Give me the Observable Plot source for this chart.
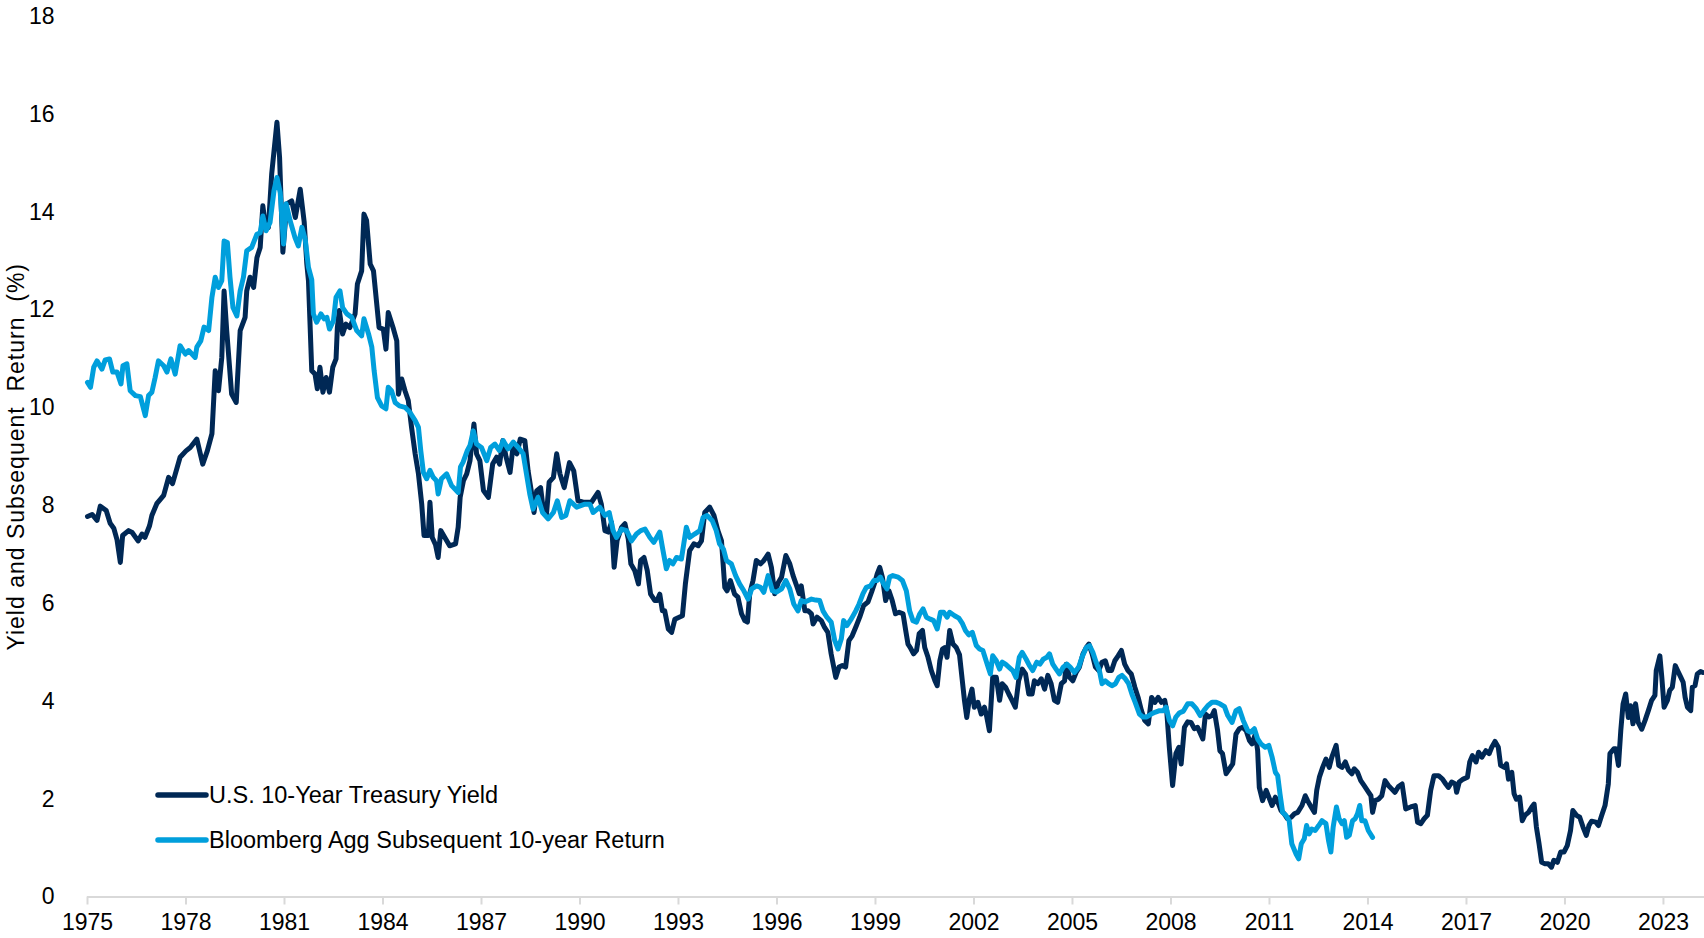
<!DOCTYPE html>
<html>
<head>
<meta charset="utf-8">
<script src="https://cdn.jsdelivr.net/npm/d3@7"></script>
<script src="https://cdn.jsdelivr.net/npm/@observablehq/plot@0.6"></script>
<style>
  html, body { margin: 0; padding: 0; background: #ffffff; }
  #wrap { position: relative; width: 1704px; height: 938px; font-family: "Liberation Sans", Arial, sans-serif; }
  #legend { position: absolute; left: 154px; top: 0; font-size: 23.5px; color: #000; }
  .row { position: absolute; left: 0; display: flex; align-items: center; white-space: nowrap; height: 30px; }
  .row svg { display: block; margin-right: 0px; }
  g[aria-label="y-axis label"] text { white-space: pre; letter-spacing: 1px; }
</style>
</head>
<body>
<div id="wrap"></div>
<script>
// ---- Data (x = position on the chart's year axis) ----
const seriesNames = ["U.S. 10-Year Treasury Yield", "Bloomberg Agg Subsequent 10-year Return"];
const seriesColors = ["#002855", "#009fdc"];
const xTicks = [1975, 1978, 1981, 1984, 1987, 1990, 1993, 1996, 1999, 2002, 2005, 2008, 2011, 2014, 2017, 2020, 2023];
const yTicks = [0, 2, 4, 6, 8, 10, 12, 14, 16, 18];

const treasuryYear = [
1975.00,1975.14,1975.29,1975.39,1975.57,1975.69,1975.80,1975.90,1976.00,1976.07,1976.25,1976.36,1976.54,1976.66,1976.75,1976.89,1976.96,1977.11,1977.32,1977.47,1977.59,1977.82,1978.00,1978.13,1978.33,1978.51,1978.65,1978.79,1978.89,1978.99,
1979.09,1979.16,1979.24,1979.39,1979.53,1979.65,1979.80,1979.85,1979.95,1980.06,1980.16,1980.26,1980.34,1980.41,1980.51,1980.61,1980.77,1980.85,1980.95,1981.07,1981.22,1981.33,1981.48,1981.60,1981.68,1981.73,1981.83,1981.93,1982.00,1982.08,
1982.17,1982.27,1982.37,1982.47,1982.57,1982.61,1982.67,1982.77,1982.87,1982.99,1983.15,1983.22,1983.35,1983.42,1983.50,1983.61,1983.71,1983.88,1984.01,1984.09,1984.16,1984.32,1984.42,1984.47,1984.57,1984.67,1984.77,1984.87,1984.98,1985.08,
1985.18,1985.25,1985.38,1985.43,1985.50,1985.60,1985.68,1985.76,1985.91,1986.03,1986.21,1986.29,1986.35,1986.45,1986.55,1986.65,1986.77,1986.85,1986.95,1987.06,1987.21,1987.34,1987.46,1987.55,1987.65,1987.75,1987.87,1987.97,1988.08,1988.18,
1988.32,1988.42,1988.53,1988.60,1988.68,1988.80,1988.88,1988.98,1989.06,1989.19,1989.29,1989.39,1989.52,1989.68,1989.81,1989.94,1990.10,1990.35,1990.55,1990.65,1990.76,1990.86,1990.96,1991.04,1991.13,1991.27,1991.37,1991.47,1991.55,1991.67,
1991.78,1991.85,1991.95,1992.05,1992.15,1992.28,1992.35,1992.43,1992.51,1992.58,1992.69,1992.79,1992.89,1993.02,1993.12,1993.21,1993.34,1993.47,1993.60,1993.70,1993.80,1993.95,1994.08,1994.20,1994.31,1994.41,1994.48,1994.58,1994.71,1994.81,
1994.92,1995.02,1995.10,1995.17,1995.27,1995.37,1995.50,1995.60,1995.73,1995.83,1995.93,1996.04,1996.14,1996.27,1996.39,1996.49,1996.60,1996.68,1996.74,1996.85,1996.95,1997.05,1997.10,1997.22,1997.35,1997.45,1997.55,1997.65,1997.79,1997.89,
1997.99,1998.09,1998.19,1998.29,1998.42,1998.52,1998.64,1998.77,1998.88,1998.98,1999.05,1999.13,1999.21,1999.31,1999.41,1999.51,1999.61,1999.72,1999.84,1999.92,1999.99,2000.06,2000.16,2000.25,2000.33,2000.43,2000.50,2000.60,2000.70,2000.81,
2000.88,2000.96,2001.04,2001.11,2001.18,2001.26,2001.36,2001.46,2001.56,2001.64,2001.71,2001.78,2001.86,2001.94,2002.01,2002.12,2002.22,2002.32,2002.39,2002.47,2002.57,2002.68,2002.78,2002.86,2002.96,2003.06,2003.16,2003.26,2003.36,2003.47,
2003.57,2003.67,2003.77,2003.84,2003.94,2004.05,2004.15,2004.25,2004.35,2004.45,2004.55,2004.66,2004.76,2004.81,2004.91,2005.01,2005.11,2005.21,2005.32,2005.42,2005.50,2005.60,2005.70,2005.80,2005.90,2006.00,2006.09,2006.19,2006.29,2006.39,
2006.49,2006.59,2006.69,2006.79,2006.90,2007.00,2007.10,2007.20,2007.31,2007.41,2007.51,2007.61,2007.71,2007.81,2007.87,2007.95,2008.05,2008.15,2008.24,2008.31,2008.41,2008.51,2008.61,2008.71,2008.81,2008.97,2009.05,2009.15,2009.25,2009.32,
2009.42,2009.49,2009.57,2009.68,2009.78,2009.88,2009.98,2010.08,2010.18,2010.29,2010.39,2010.47,2010.57,2010.64,2010.69,2010.79,2010.90,2010.98,2011.08,2011.18,2011.28,2011.35,2011.45,2011.55,2011.66,2011.76,2011.86,2011.99,2012.09,2012.16,
2012.27,2012.37,2012.44,2012.52,2012.62,2012.72,2012.82,2012.90,2013.03,2013.11,2013.21,2013.31,2013.41,2013.51,2013.58,2013.68,2013.78,2013.88,2013.98,2014.09,2014.14,2014.22,2014.32,2014.42,2014.52,2014.62,2014.72,2014.82,2014.93,2015.04,
2015.15,2015.30,2015.44,2015.51,2015.61,2015.71,2015.81,2015.91,2016.01,2016.15,2016.27,2016.37,2016.45,2016.55,2016.66,2016.70,2016.78,2016.90,2017.03,2017.10,2017.18,2017.29,2017.37,2017.47,2017.59,2017.69,2017.77,2017.87,2017.97,2018.04,
2018.15,2018.22,2018.28,2018.38,2018.45,2018.52,2018.62,2018.70,2018.78,2018.89,2018.99,2019.06,2019.13,2019.21,2019.29,2019.39,2019.49,2019.59,2019.66,2019.77,2019.87,2019.97,2020.07,2020.17,2020.24,2020.35,2020.45,2020.55,2020.65,2020.73,
2020.81,2020.94,2021.02,2021.12,2021.22,2021.32,2021.37,2021.49,2021.55,2021.63,2021.70,2021.77,2021.85,2021.93,2022.00,2022.07,2022.15,2022.23,2022.34,2022.44,2022.54,2022.64,2022.74,2022.78,2022.89,2022.95,2023.02,2023.12,2023.19,2023.27,
2023.36,2023.43,2023.53,2023.60,2023.66,2023.73,2023.83,2023.88,2023.96,2024.03,2024.13,2024.20
];
const treasuryYield = [
7.78,7.82,7.70,7.99,7.90,7.64,7.54,7.30,6.84,7.39,7.49,7.45,7.28,7.42,7.35,7.59,7.80,8.04,8.21,8.58,8.45,8.99,9.12,9.19,9.36,8.85,9.12,9.47,10.76,10.35,
11.03,12.39,11.58,10.28,10.11,11.58,11.85,12.39,12.67,12.46,13.07,13.28,14.13,13.76,13.69,14.78,15.84,15.12,13.18,14.17,14.23,13.89,14.47,13.80,12.94,12.60,10.76,10.69,10.39,10.83,
10.32,10.62,10.32,10.83,11.00,11.64,11.99,11.51,11.71,11.64,11.92,12.53,12.80,13.96,13.83,12.94,12.80,11.64,11.61,11.20,11.95,11.61,11.37,10.28,10.59,10.35,10.15,9.60,9.06,8.65,
8.03,7.39,7.39,8.07,7.35,7.20,6.94,7.49,7.32,7.18,7.22,7.56,8.17,8.51,8.65,8.92,9.67,9.06,8.92,8.31,8.17,8.85,8.99,8.85,9.33,8.99,8.68,9.26,9.06,9.36,
9.33,8.71,8.24,7.86,8.30,8.37,7.93,7.83,8.48,8.58,9.06,8.65,8.37,8.88,8.71,8.10,8.07,8.07,8.27,8.03,7.49,7.46,7.66,6.74,7.29,7.56,7.63,7.32,6.81,6.67,
6.40,6.88,6.94,6.67,6.19,6.06,6.06,6.19,5.85,5.85,5.48,5.41,5.68,5.72,5.75,6.40,7.08,7.22,7.18,7.28,7.86,7.97,7.80,7.49,7.28,6.33,6.26,6.47,6.19,6.13,
5.79,5.65,5.62,6.20,6.47,6.88,6.81,6.88,7.01,6.74,6.20,6.43,6.54,6.98,6.81,6.57,6.36,6.20,6.36,5.85,5.85,5.79,5.58,5.72,5.65,5.51,5.41,4.97,4.49,4.70,
4.73,4.70,5.24,5.34,5.55,5.72,5.96,6.03,6.23,6.43,6.60,6.74,6.54,6.06,6.26,6.06,5.79,5.82,5.79,5.45,5.17,5.10,4.97,5.04,5.38,5.45,5.10,4.90,4.63,4.42,
4.32,4.83,5.07,5.10,4.90,5.45,5.17,5.10,4.95,4.45,4.02,3.67,4.05,4.25,3.88,3.98,3.74,3.88,3.68,3.40,4.49,4.49,4.02,4.36,4.29,4.15,4.02,3.88,4.42,4.66,
4.56,4.15,4.15,4.42,4.36,4.46,4.25,4.53,4.36,4.02,3.98,4.36,4.42,4.76,4.49,4.42,4.59,4.70,4.97,5.10,5.17,4.97,4.70,4.63,4.80,4.83,4.63,4.63,4.83,4.93,
5.04,4.76,4.63,4.56,4.29,4.08,3.81,3.61,3.54,4.08,3.98,4.08,3.98,4.02,3.81,3.06,2.28,2.93,3.06,2.72,3.47,3.58,3.57,3.44,3.47,3.23,3.74,3.68,3.71,3.81,
3.40,2.99,2.93,2.52,2.62,2.72,3.33,3.44,3.47,3.40,3.20,3.13,3.33,2.99,2.24,1.97,2.18,2.04,1.87,2.04,1.90,1.77,1.70,1.60,1.63,1.70,1.73,1.87,2.07,1.97,
1.84,1.73,2.18,2.45,2.65,2.82,2.65,2.86,3.10,2.69,2.65,2.76,2.59,2.52,2.62,2.55,2.38,2.28,2.18,2.07,1.73,1.97,2.00,2.07,2.38,2.28,2.21,2.14,2.26,2.31,
1.80,1.84,1.87,1.53,1.50,1.60,1.67,2.18,2.48,2.48,2.41,2.31,2.24,2.35,2.31,2.14,2.35,2.41,2.45,2.76,2.89,2.76,2.96,2.86,2.99,2.93,3.06,3.18,3.06,2.69,
2.65,2.72,2.41,2.55,2.11,2.00,2.04,1.56,1.67,1.73,1.84,1.90,1.43,1.09,0.71,0.68,0.68,0.61,0.75,0.71,0.92,0.92,1.05,1.36,1.77,1.67,1.63,1.43,1.26,1.46,
1.55,1.53,1.46,1.67,1.87,2.31,2.93,3.03,3.03,2.69,3.40,3.95,4.15,3.67,3.91,3.54,3.95,3.57,3.43,3.61,3.81,4.02,4.12,4.63,4.93,4.49,3.88,4.02,4.22,4.29,
4.73,4.63,4.49,4.39,4.08,3.88,3.81,4.29,4.32,4.56,4.61,4.59
];

const aggYear = [
1975.00,1975.09,1975.19,1975.29,1975.44,1975.54,1975.67,1975.77,1975.90,1976.02,1976.08,1976.20,1976.30,1976.46,1976.61,1976.76,1976.86,1976.96,1977.06,1977.16,1977.32,1977.42,1977.54,1977.67,1977.82,1977.98,1978.08,1978.28,1978.33,1978.45,
1978.55,1978.69,1978.79,1978.89,1978.99,1979.09,1979.16,1979.26,1979.34,1979.43,1979.55,1979.65,1979.75,1979.85,1980.00,1980.16,1980.26,1980.34,1980.44,1980.56,1980.68,1980.77,1980.87,1980.97,1981.05,1981.17,1981.32,1981.42,1981.53,1981.63,
1981.73,1981.83,1981.88,1981.98,1982.11,1982.21,1982.29,1982.37,1982.49,1982.57,1982.69,1982.77,1982.90,1983.05,1983.20,1983.35,1983.42,1983.56,1983.66,1983.73,1983.83,1983.96,1984.09,1984.16,1984.26,1984.37,1984.50,1984.67,1984.82,1984.98,
1985.08,1985.15,1985.23,1985.33,1985.43,1985.53,1985.63,1985.68,1985.78,1985.94,1986.09,1986.19,1986.29,1986.36,1986.44,1986.57,1986.65,1986.75,1986.85,1987.00,1987.16,1987.28,1987.41,1987.54,1987.66,1987.81,1987.97,1988.12,1988.27,1988.37,
1988.47,1988.57,1988.72,1988.86,1989.03,1989.19,1989.31,1989.44,1989.57,1989.69,1989.90,1990.15,1990.30,1990.40,1990.60,1990.76,1990.89,1991.01,1991.11,1991.27,1991.42,1991.57,1991.72,1991.85,1991.98,1992.13,1992.25,1992.43,1992.51,1992.63,
1992.73,1992.83,1992.94,1993.09,1993.24,1993.34,1993.49,1993.65,1993.75,1993.87,1994.03,1994.15,1994.25,1994.37,1994.46,1994.61,1994.74,1994.86,1994.99,1995.12,1995.23,1995.38,1995.50,1995.60,1995.73,1995.86,1995.98,1996.14,1996.27,1996.39,
1996.51,1996.64,1996.74,1996.85,1996.95,1997.05,1997.18,1997.30,1997.40,1997.52,1997.65,1997.76,1997.86,1997.96,1998.03,1998.13,1998.26,1998.40,1998.50,1998.62,1998.72,1998.85,1998.95,1999.05,1999.15,1999.25,1999.35,1999.43,1999.53,1999.69,
1999.82,1999.94,2000.04,2000.14,2000.25,2000.35,2000.45,2000.55,2000.67,2000.77,2000.88,2000.98,2001.08,2001.18,2001.26,2001.41,2001.54,2001.64,2001.74,2001.84,2001.95,2002.07,2002.17,2002.27,2002.43,2002.50,2002.57,2002.68,2002.78,2002.86,
2002.96,2003.06,2003.18,2003.28,2003.38,2003.47,2003.59,2003.69,2003.79,2003.91,2004.01,2004.11,2004.22,2004.30,2004.40,2004.50,2004.60,2004.72,2004.83,2004.93,2005.06,2005.19,2005.29,2005.42,2005.52,2005.62,2005.72,2005.82,2005.90,2006.00,
2006.10,2006.20,2006.31,2006.41,2006.51,2006.61,2006.71,2006.81,2006.91,2007.04,2007.14,2007.26,2007.40,2007.53,2007.65,2007.77,2007.85,2007.95,2008.05,2008.15,2008.25,2008.38,2008.51,2008.64,2008.77,2008.89,2009.00,2009.12,2009.25,2009.38,
2009.49,2009.63,2009.73,2009.86,2009.98,2010.08,2010.20,2010.34,2010.43,2010.54,2010.64,2010.74,2010.87,2010.98,2011.08,2011.18,2011.25,2011.32,2011.40,2011.50,2011.60,2011.68,2011.81,2011.89,2011.97,2012.06,2012.13,2012.21,2012.29,2012.39,
2012.50,2012.60,2012.72,2012.80,2012.87,2012.94,2013.04,2013.12,2013.21,2013.28,2013.35,2013.43,2013.53,2013.61,2013.68,2013.75,2013.81,2013.91,2014.01,2014.14
];
const aggReturn = [
10.52,10.42,10.83,10.96,10.79,10.98,11.00,10.73,10.73,10.49,10.86,10.90,10.35,10.25,10.23,9.84,10.25,10.32,10.62,10.96,10.86,10.73,11.00,10.69,11.27,11.10,11.17,11.03,11.24,11.37,
11.65,11.58,12.26,12.67,12.46,12.60,13.41,13.38,12.67,12.05,11.88,12.39,12.67,13.21,13.28,13.55,13.58,13.92,13.62,13.79,14.44,14.71,14.40,13.35,14.17,13.83,13.48,13.31,13.69,13.45,
12.87,12.62,11.92,11.75,11.92,11.82,11.85,11.61,11.78,12.26,12.39,12.05,11.92,11.85,11.58,11.47,11.82,11.51,11.24,10.76,10.21,10.04,9.98,10.42,10.35,10.11,10.04,10.01,9.91,9.74,
9.60,9.13,8.68,8.55,8.72,8.58,8.51,8.24,8.55,8.65,8.41,8.34,8.27,8.79,8.89,9.13,9.23,9.53,9.26,9.19,8.92,9.19,9.26,9.13,9.33,9.16,9.30,9.19,9.06,8.65,
8.24,7.93,8.17,7.86,7.73,7.86,8.10,7.76,7.80,8.10,7.97,8.03,8.03,7.86,7.97,7.80,7.86,7.49,7.35,7.52,7.49,7.28,7.42,7.49,7.52,7.35,7.25,7.46,7.15,6.71,
6.88,6.81,6.94,6.91,7.56,7.35,7.42,7.49,7.76,7.80,7.69,7.49,7.22,7.11,6.88,6.81,6.57,6.40,6.26,6.09,6.30,6.36,6.33,6.23,6.57,6.26,6.23,6.30,6.47,6.30,
5.99,5.85,6.06,6.03,6.06,6.09,6.07,6.06,5.85,5.72,5.62,5.24,5.07,5.28,5.65,5.55,5.68,5.85,5.99,6.20,6.33,6.36,6.47,6.47,6.54,6.40,6.30,6.54,6.57,6.54,
6.47,6.26,5.85,5.65,5.62,5.79,5.89,5.72,5.68,5.65,5.48,5.82,5.82,5.72,5.82,5.75,5.70,5.60,5.45,5.36,5.41,5.14,5.07,5.04,4.70,4.56,4.93,4.83,4.66,4.80,
4.76,4.70,4.63,4.49,4.90,5.00,4.86,4.73,4.63,4.80,4.76,4.86,4.90,4.97,4.76,4.66,4.56,4.70,4.76,4.70,4.59,4.70,4.90,5.10,5.14,5.00,4.80,4.63,4.36,4.42,
4.36,4.32,4.36,4.49,4.53,4.46,4.36,4.15,3.98,3.74,3.68,3.68,3.74,3.78,3.81,3.81,3.88,3.61,3.50,3.68,3.76,3.80,3.95,3.95,3.85,3.71,3.81,3.91,3.98,3.98,
3.95,3.89,3.71,3.57,3.81,3.85,3.61,3.40,3.37,3.44,3.23,3.13,3.06,3.10,2.86,2.55,2.48,2.11,1.73,1.67,1.56,1.09,0.88,0.78,1.09,1.19,1.46,1.29,1.39,1.36,
1.46,1.56,1.50,1.15,0.92,1.43,1.84,1.60,1.50,1.56,1.22,1.26,1.56,1.60,1.70,1.87,1.56,1.56,1.36,1.22
];

// ---- Build the long table used by Plot ----
const rows = [
  ...treasuryYear.map((x, i) => ({ x, y: treasuryYield[i], series: seriesNames[0] })),
  ...aggYear.map((x, i) => ({ x, y: aggReturn[i], series: seriesNames[1] }))
];

const chart = Plot.plot({
  width: 1704,
  height: 938,
  marginLeft: 87,
  marginRight: 0,
  marginTop: 16,
  marginBottom: 41.5,
  style: { fontFamily: "'Liberation Sans', Arial, sans-serif", fontSize: "23px", color: "#000", background: "#fff", overflow: "visible" },
  x: { domain: [1975, 2024.25] },
  y: { domain: [0, 18] },
  color: { domain: seriesNames, range: seriesColors },
  marks: [
    Plot.ruleY([0], { stroke: "#d9d9d9", strokeWidth: 2 }),
    Plot.axisX({ ticks: xTicks, tickFormat: d => String(d), tickSize: 8, tickPadding: 9, stroke: "#d9d9d9", strokeWidth: 2, fill: "#000", fontSize: 23, label: null }),
    Plot.axisY({ ticks: yTicks, tickSize: 0, tickPadding: 33, fill: "#000", fontSize: 23,
      label: "Yield and Subsequent  Return  (%)", labelAnchor: "center", labelArrow: "none", labelOffset: 80 }),
    Plot.line(rows, { x: "x", y: "y", z: "series", stroke: "series", strokeWidth: 5, strokeLinejoin: "round", strokeLinecap: "round" })
  ]
});

const wrap = document.getElementById("wrap");
wrap.appendChild(chart);

// ---- Legend (inside the plot area, lower left) ----
const legend = document.createElement("div");
legend.id = "legend";
const rowCenters = [795, 840];
seriesNames.forEach((name, i) => {
  const r = document.createElement("div");
  r.className = "row";
  r.style.top = (rowCenters[i] - 15) + "px";
  r.innerHTML = `<svg width="55" height="30"><line x1="4" y1="15" x2="52" y2="15" stroke="${seriesColors[i]}" stroke-width="5.5" stroke-linecap="round"/></svg><span>${name}</span>`;
  legend.appendChild(r);
});
wrap.appendChild(legend);
</script>
</body>
</html>
